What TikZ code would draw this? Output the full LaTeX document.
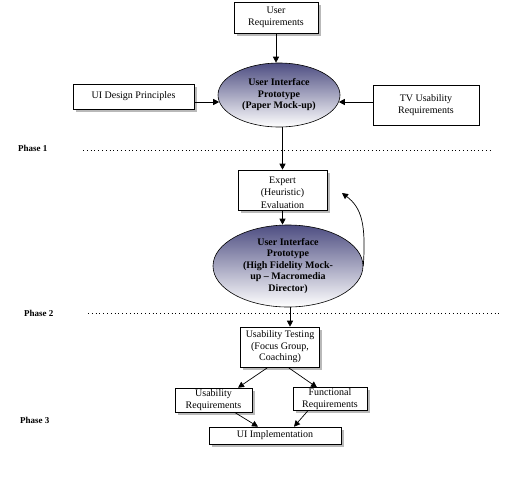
\documentclass[tikz,border=0pt]{standalone}
\usepackage{fontspec}
\setmainfont{Liberation Serif}
\usetikzlibrary{shapes.geometric,arrows.meta,shadows}
\definecolor{ellblue}{RGB}{78,78,130}
\tikzset{
  box/.style={draw, line width=0.6pt, fill=white, align=center, inner sep=1pt,
    font=\fontsize{10}{11.5}\selectfont},
  shbox/.style={box, drop shadow={shadow xshift=2.5pt, shadow yshift=-2.5pt, fill=gray!55, opacity=1}},
  ell/.style={ellipse, draw, line width=0.6pt, top color=ellblue, bottom color=white,
    align=center, inner sep=0pt, font=\fontsize{10}{11.5}\selectfont\bfseries},
  arr/.style={-{Triangle[width=6pt,length=6pt]}, line width=0.7pt},
  phase/.style={anchor=west, font=\fontsize{9}{10}\selectfont\bfseries, inner sep=0pt},
  dots/.style={line width=0.6pt, dash pattern=on 0.8pt off 3pt}
}
\begin{document}
\begin{tikzpicture}[x=1pt,y=-1pt]
\useasboundingbox (0,0) rectangle (516,479);
% boxes
\node[shbox, minimum width=84pt, minimum height=31pt] (ureq) at (276,17.5) {User\\Requirements};
\node[shbox, minimum width=121pt, minimum height=25pt] (udp) at (133.5,96.5) {UI Design Principles};
\node[box, minimum width=106pt, minimum height=40pt] (tvr) at (426,105) {TV Usability\\Requirements};
\node[ell, minimum width=122pt, minimum height=64pt] (e1) at (279,95) {User Interface\\Prototype\\(Paper Mock-up)};
% phase 1
\node[phase] (p1) at (18,148) {Phase 1};
\coordinate (d1a) at (83,150);
\coordinate (d1b) at (490,150);
\draw[dots] (d1a) -- (d1b);
% expert
\node[shbox, minimum width=89pt, minimum height=40pt] (expert) at (282.5,190) {};
\begin{scope}
\clip (expert.south west) rectangle (expert.north east);
\node[font=\fontsize{10}{12.5}\selectfont, align=center, anchor=north, inner sep=0pt] (exptext) at (282.5,176.5) {Expert\\(Heuristic)\\Evaluation};
\end{scope}
\node[ell, minimum width=150pt, minimum height=82pt] (e2) at (288,266) {User Interface\\Prototype\\(High Fidelity Mock-\\up -- Macromedia\\Director)};
% phase 2
\node[phase] (p2) at (24,313) {Phase 2};
\coordinate (d2a) at (88,313);
\coordinate (d2b) at (500,313);
\draw[dots] (d2a) -- (d2b);
\node[shbox, minimum width=79pt, minimum height=40pt] (ut) at (280,347) {Usability Testing\\(Focus Group,\\Coaching)};
\node[shbox, minimum width=77pt, minimum height=24pt] (ur) at (213.5,400) {Usability\\Requirements};
\node[shbox, minimum width=74pt, minimum height=22pt] (fr) at (330,399) {Functional\\Requirements};
\node[shbox, minimum width=132pt, minimum height=17pt] (uii) at (275,435.5) {UI Implementation};
\node[phase] (p3) at (20,420) {Phase 3};
% connectors
\draw[arr] (ureq.south) -- (ureq.south |- e1.north);
\draw[arr] ([yshift=-5.5pt]udp.east) -- ([yshift=-7pt,xshift=1.5pt]e1.west);
\draw[arr] ([yshift=3pt]tvr.west) -- ([yshift=-7pt,xshift=-1.5pt]e1.east);
\draw[arr] (expert.north |- e1.south) -- (expert.north);
\draw[arr] (expert.south) -- (expert.south |- e2.north);
\draw[arr] ([xshift=2pt]e2.south) -- ([xshift=10pt]ut.north);
\coordinate (loopend) at (342,193);
\draw[arr] (e2.east) .. controls (366,225) and (362,208) .. (loopend);
\draw[arr] ([xshift=-12pt]ut.south) -- ([xshift=24.5pt]ur.north);
\draw[arr] ([xshift=8pt]ut.south) -- ([xshift=-13pt]fr.north);
\draw[arr] ([xshift=21pt]ur.south) -- ([xshift=-17pt]uii.north);
\draw[arr] ([xshift=-22pt]fr.south) -- ([xshift=19pt]uii.north);
\end{tikzpicture}
\end{document}
